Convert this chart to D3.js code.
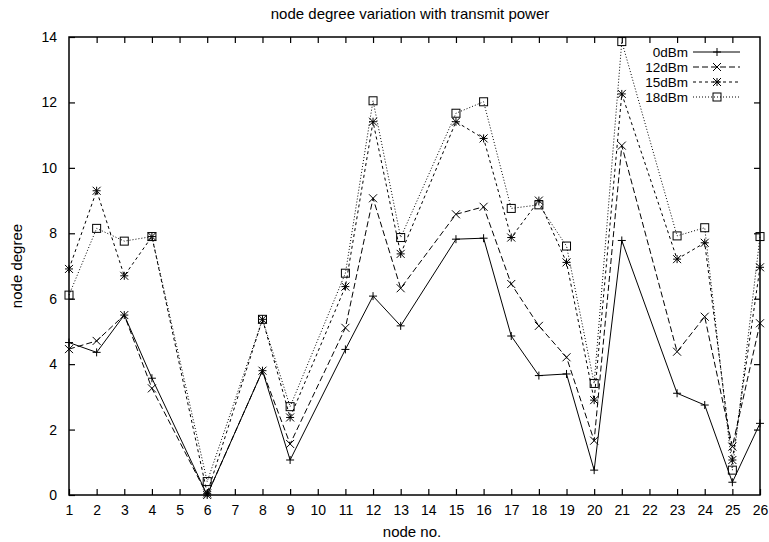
<!DOCTYPE html>
<html><head><meta charset="utf-8">
<script src="https://cdn.jsdelivr.net/npm/d3@7"></script>
<style>body{margin:0;background:#fff}svg{display:block}text{font-family:"Liberation Sans",Arial,Helvetica,sans-serif;fill:#000}</style>
</head><body>
<script>
const nodes = [1,2,3,4,6,8,9,11,12,13,15,16,17,18,19,20,21,23,24,25,26];
const dBm0  = [4.66,4.36,5.50,3.57,0.00,3.80,1.07,4.45,6.08,5.17,7.82,7.85,4.86,3.65,3.70,0.76,7.78,3.11,2.75,0.39,2.19];
const dBm12 = [4.46,4.71,5.50,3.26,0.00,3.80,1.56,5.11,9.07,6.32,8.58,8.81,6.45,5.17,4.21,1.66,10.68,4.38,5.45,1.48,5.25];
const dBm15 = [6.91,9.30,6.70,7.90,0.05,5.37,2.37,6.37,11.41,7.37,11.41,10.90,7.87,9.00,7.11,2.90,12.26,7.21,7.71,1.07,6.96];
const dBm18 = [6.11,8.15,7.76,7.90,0.41,5.37,2.70,6.78,12.05,7.87,11.67,12.02,8.76,8.87,7.61,3.41,13.86,7.92,8.17,0.76,7.90];
const seriesNames = ["0dBm","12dBm","15dBm","18dBm"];
const xTicks = d3.range(1,27);
const yTicks = [0,2,4,6,8,10,12,14];

const W=769,H=542, m={l:69,r:9,t:37,b:47};
const svg=d3.select("body").append("svg").attr("width",W).attr("height",H);
const x=d3.scaleLinear().domain([1,26]).range([m.l,W-m.r]);
const y=d3.scaleLinear().domain([0,14]).range([H-m.b,m.t]);

const series=[
 {name:seriesNames[0],vals:dBm0,dash:null,marker:"plus"},
 {name:seriesNames[1],vals:dBm12,dash:"6,3",marker:"cross"},
 {name:seriesNames[2],vals:dBm15,dash:"3,3",marker:"star"},
 {name:seriesNames[3],vals:dBm18,dash:"1,2",marker:"square"}
];

const tl=6;
svg.append("g").attr("transform",`translate(0,${H-m.b})`)
 .call(d3.axisBottom(x).tickValues(xTicks).tickSizeInner(-tl).tickSizeOuter(0).tickPadding(10).tickFormat(d3.format("d")))
 .call(g=>{g.select(".domain").remove();g.selectAll("text").attr("font-size",14).attr("dy","0.7em");});
svg.append("g").attr("transform",`translate(0,${m.t})`)
 .call(d3.axisTop(x).tickValues(xTicks.slice(1,-1)).tickSizeInner(-tl).tickSizeOuter(0).tickFormat(""))
 .call(g=>g.select(".domain").remove());
svg.append("g").attr("transform",`translate(${m.l},0)`)
 .call(d3.axisLeft(y).tickValues(yTicks).tickSizeInner(-tl).tickSizeOuter(0).tickPadding(12))
 .call(g=>{g.select(".domain").remove();g.selectAll("text").attr("font-size",14);});
svg.append("g").attr("transform",`translate(${W-m.r},0)`)
 .call(d3.axisRight(y).tickValues(yTicks.slice(1,-1)).tickSizeInner(-tl).tickSizeOuter(0).tickFormat(""))
 .call(g=>g.select(".domain").remove());
svg.selectAll(".tick line").attr("stroke","#000").attr("stroke-width",1.2);
svg.append("rect").attr("x",m.l).attr("y",m.t).attr("width",W-m.l-m.r).attr("height",H-m.t-m.b)
 .attr("fill","none").attr("stroke","#000").attr("stroke-width",1.5);

function drawMarker(g,type,cx,cy){
 const s=4;
 if(type==="plus"||type==="star"){
  g.append("path").attr("d",`M${cx-s},${cy}H${cx+s}M${cx},${cy-s}V${cy+s}`);
 }
 if(type==="cross"||type==="star"){
  g.append("path").attr("d",`M${cx-s},${cy-s}L${cx+s},${cy+s}M${cx-s},${cy+s}L${cx+s},${cy-s}`);
 }
 if(type==="square"){
  g.append("rect").attr("x",cx-s).attr("y",cy-s).attr("width",2*s).attr("height",2*s).attr("fill","none");
 }
}

const line=d3.line().x(d=>x(d[0])).y(d=>y(d[1]));
series.forEach(s=>{
 const pts=nodes.map((n,i)=>[n,s.vals[i]]);
 svg.append("path").datum(pts).attr("d",line).attr("fill","none").attr("stroke","#000")
  .attr("stroke-width",1).attr("stroke-dasharray",s.dash);
 const mg=svg.append("g").attr("stroke","#000").attr("stroke-width",1).attr("fill","none");
 pts.forEach(p=>drawMarker(mg,s.marker,x(p[0]),y(p[1])));
});

const lg=svg.append("g");
series.forEach((s,i)=>{
 const yy=52+i*15;
 lg.append("text").attr("x",688).attr("y",yy).attr("dy","0.35em").attr("text-anchor","end").attr("font-size",13.5).text(s.name);
 lg.append("line").attr("x1",693).attr("x2",740).attr("y1",yy).attr("y2",yy).attr("stroke","#000").attr("stroke-width",1).attr("stroke-dasharray",s.dash);
 const mg=lg.append("g").attr("stroke","#000").attr("stroke-width",1).attr("fill","none");
 drawMarker(mg,s.marker,717,yy);
});

svg.append("text").attr("x",410).attr("y",19).attr("text-anchor","middle").attr("font-size",15).text("node degree variation with transmit power");
svg.append("text").attr("x",412).attr("y",537).attr("text-anchor","middle").attr("font-size",15).text("node no.");
svg.append("text").attr("transform","translate(22,266) rotate(-90)").attr("text-anchor","middle").attr("font-size",15).text("node degree");
</script>
</body></html>
